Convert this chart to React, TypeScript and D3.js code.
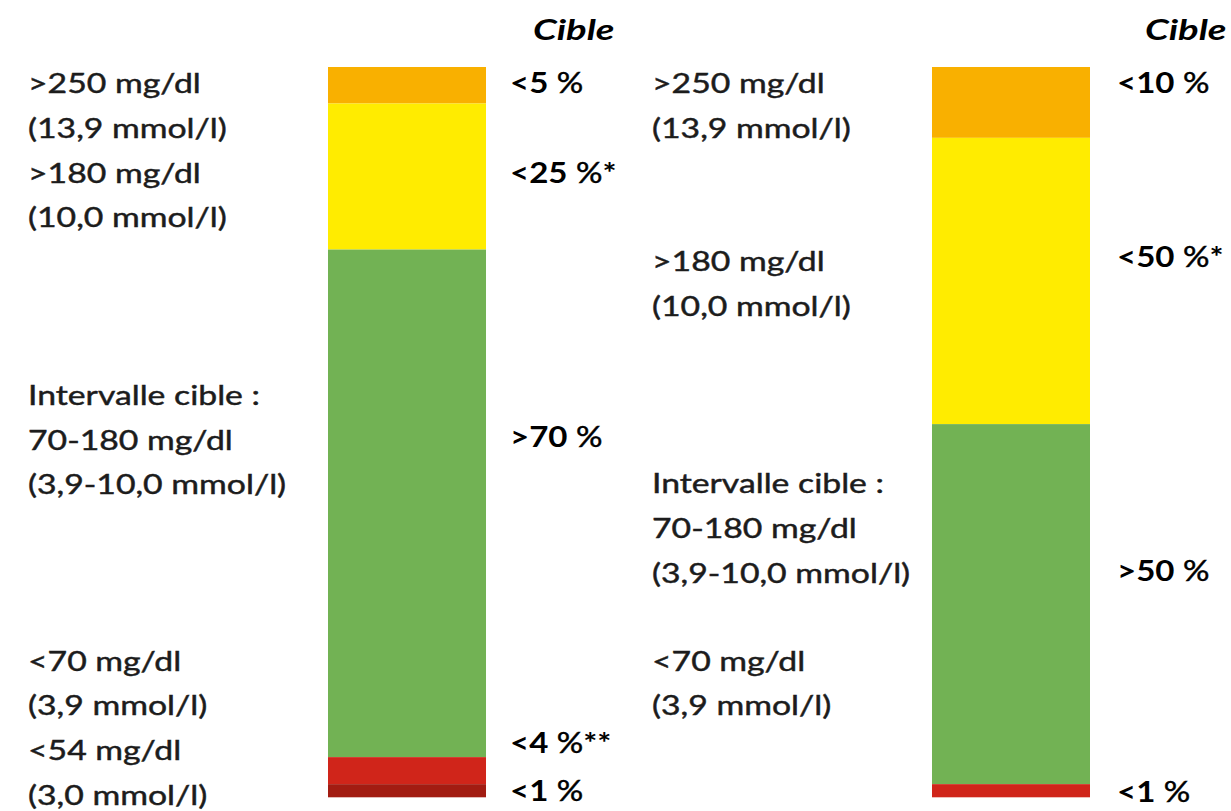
import React from "react";
import * as d3 from "d3";

// Glycaemic ranges, top to bottom of each column
const zones = ["tar2", "tar1", "tir", "tbr1", "tbr2"];
const zoneColors = ["#F9B000", "#FFEC00", "#72B254", "#D0251A", "#A21C12"];

// Two profiles, share of time (%) spent in each zone
const profiles = ["standard", "fragile"];
const standardShares = [5, 20, 69.5, 3.7, 1.8];
const fragileShares = [9.7, 39.2, 49.3, 1.8, 0];

// Range descriptions (left of each column), grouped in blocks
const standardRangeText = [
  [">250 mg/dl", "(13,9 mmol/l)", ">180 mg/dl", "(10,0 mmol/l)"],
  ["Intervalle cible :", "70-180 mg/dl", "(3,9-10,0 mmol/l)"],
  ["<70 mg/dl", "(3,9 mmol/l)", "<54 mg/dl", "(3,0 mmol/l)"],
];
const fragileRangeText = [
  [">250 mg/dl", "(13,9 mmol/l)"],
  [">180 mg/dl", "(10,0 mmol/l)"],
  ["Intervalle cible :", "70-180 mg/dl", "(3,9-10,0 mmol/l)"],
  ["<70 mg/dl", "(3,9 mmol/l)"],
];

// Targets (right of each column): bound, suffix marks
const standardTargets = ["<5", "<25", ">70", "<4", "<1"];
const standardTargetMarks = ["", "*", "", "**", ""];
const fragileTargets = ["<10", "<50", ">50", "<1"];
const fragileTargetMarks = ["", "*", "", ""];

const headerText = "Cible";

// ---- layout ----
const W = 1231;
const H = 811;
const FONT = "Lato, 'Open Sans', sans-serif";
const SX = 1.25; // horizontal stretch of the lettering
const LINE = 44.6;
const INK = "#1c1c1c";

const layout = [
  {
    labelDx: -300,
    targetDx: 182,
    headerDx: 205,
    blockBaselines: [93.3, 405, 670.7],
    targetBaselines: [92.7, 183.3, 447.3, 753, 801],
  },
  {
    labelDx: -280,
    targetDx: 185,
    headerDx: 213,
    blockBaselines: [93.3, 271, 493.3, 670.7],
    targetBaselines: [93, 267, 581, 802],
  },
];

const sharesByProfile = [standardShares, fragileShares];
const rangeTextByProfile = [standardRangeText, fragileRangeText];
const targetsByProfile = [standardTargets, fragileTargets];
const marksByProfile = [standardTargetMarks, fragileTargetMarks];

export default function App() {
  const x = d3
    .scaleBand<string>()
    .domain(profiles)
    .range([328, 1090])
    .paddingInner(0.7384)
    .paddingOuter(0);

  const y = d3.scaleLinear().domain([0, 100]).range([67, 797.3]);

  return (
    <svg
      width={W}
      height={H}
      viewBox={`0 0 ${W} ${H}`}
      style={{ position: "absolute", left: 0, top: 0, background: "#fff" }}
    >
      {profiles.map((p, pi) => {
        const shares = sharesByProfile[pi];
        const ends = d3.cumsum(shares);
        const x0 = x(p) as number;
        const lay = layout[pi];
        return (
          <g key={p}>
            {zones.map((z, zi) => {
              const v = shares[zi];
              if (!v) return null;
              const top = y(ends[zi] - v);
              const bottom = y(ends[zi]);
              return (
                <rect
                  key={z}
                  x={x0}
                  y={top}
                  width={x.bandwidth()}
                  height={bottom - top}
                  fill={zoneColors[zi]}
                />
              );
            })}

            <text
              transform={`translate(${x0 + lay.headerDx},40) scale(1.32,1)`}
              fontFamily={FONT}
              fontSize={29}
              fontWeight={700}
              fontStyle="italic"
              fill="#000"
            >
              {headerText}
            </text>

            {rangeTextByProfile[pi].map((block, bi) =>
              block.map((line, li) => (
                <text
                  key={`${bi}-${li}`}
                  transform={`translate(${x0 + lay.labelDx},${
                    lay.blockBaselines[bi] + li * LINE
                  }) scale(${SX},1)`}
                  fontFamily={FONT}
                  fontSize={27}
                  fill={INK}
                  stroke={INK}
                  strokeWidth={0.45}
                >
                  {line}
                </text>
              ))
            )}

            {targetsByProfile[pi].map((t, ti) => (
              <text
                key={ti}
                transform={`translate(${x0 + lay.targetDx},${
                  lay.targetBaselines[ti]
                }) scale(1.18,1)`}
                fontFamily={FONT}
                fontSize={28}
                fill="#000"
              >
                <tspan fontWeight={700}>{t}</tspan>
                <tspan fontWeight={400} stroke="#000" strokeWidth={0.45}>
                  {" %"}
                </tspan>
                <tspan fontWeight={700}>{marksByProfile[pi][ti]}</tspan>
              </text>
            ))}
          </g>
        );
      })}
    </svg>
  );
}
